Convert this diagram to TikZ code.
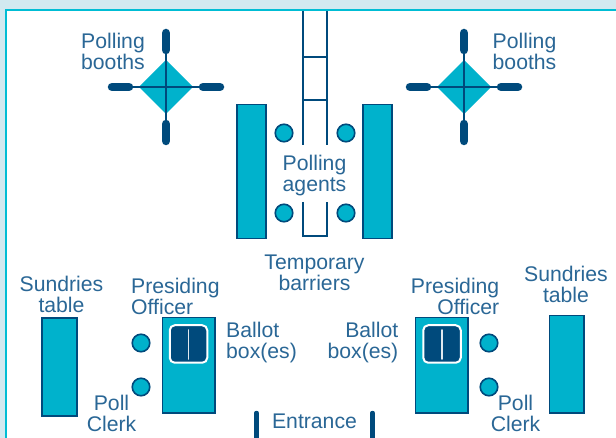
\documentclass[tikz,border=0pt]{standalone}
\usepackage{fontspec}
\setmainfont{Liberation Sans}
\definecolor{navy}{HTML}{004A7C}
\definecolor{teal}{HTML}{00B2CC}
\definecolor{pale}{HTML}{D2E9F0}
\definecolor{txt}{HTML}{2A6796}
\tikzset{
 x=1pt,y=-1pt,
 lab/.style={text=txt,font=\fontsize{21.2}{21}\selectfont,align=center,inner sep=0pt},
 tbl/.style={draw=navy,fill=teal,line width=1.6pt},
 seat/.style={circle,draw=navy,fill=teal,line width=1.6pt,minimum size=17.5pt,inner sep=0pt},
 wire/.style={draw=navy,line width=1.6pt},
 post/.style={draw=navy,line width=8.5pt,line cap=round},
}
\newcommand{\booth}[3]{%
 \coordinate (#1c) at (#2,#3);
 \fill[teal] (#2-27,#3) -- (#2,#3-27) -- (#2+27,#3) -- (#2,#3+27) -- cycle;
 \draw[wire] (#2-33,#3) -- (#2+33,#3) (#2,#3-33) -- (#2,#3+33);
 \draw[post] (#2-54,#3) -- (#2-37,#3);
 \draw[post] (#2+37,#3) -- (#2+54,#3);
 \draw[post] (#2,#3-54) -- (#2,#3-37);
 \draw[post] (#2,#3+37) -- (#2,#3+54);
}
\newcommand{\bbox}[3]{%
 \node[draw=white,fill=navy,line width=2pt,rounded corners=5pt,minimum width=37.5pt,minimum height=37.5pt,inner sep=0pt,outer sep=0pt] (#1) at (#2,#3) {};
 \draw[white!88!navy,line width=1.6pt,line cap=round] (#2,#3-14) -- (#2,#3+15);
}
\begin{document}
\begin{tikzpicture}
\useasboundingbox (0,0) rectangle (616,438);
\fill[white] (0,0) rectangle (616,438);
\fill[pale] (0,0) rectangle (616,10);
\fill[pale] (0,0) rectangle (5,438);
\draw[teal!85!cyan,line width=2pt] (616,10.5) -- (6,10.5) -- (6,438);
% booths
\booth{a}{166}{87}
\booth{b}{464}{87}
% central barrier
\draw[wire] (303,11) -- (303,145);
\draw[wire] (327,11) -- (327,145);
\draw[wire] (303,57) -- (327,57);
\draw[wire] (303,100) -- (327,100);
\draw[wire] (303,202) -- (303,236) -- (327,236) -- (327,202);
% polling agents tables
\draw[tbl] (237,104.5) rectangle (266,238.5);
\draw[tbl] (363,104.5) rectangle (392,238.5);
\node[seat] (s1) at (284,133) {};
\node[seat] (s2) at (346,133) {};
\node[seat] (s3) at (284,213) {};
\node[seat] (s4) at (346,213) {};
% left lower
\draw[tbl] (42,318) rectangle (77,416);
\draw[tbl] (162.5,317.5) rectangle (215,413);
\bbox{bl}{188.5}{344}
\node[seat] (s5) at (141,343) {};
\node[seat] (s6) at (141,387) {};
% right lower
\draw[tbl] (415.5,317.5) rectangle (468,413);
\bbox{br}{442}{344}
\node[seat] (s7) at (489,343) {};
\node[seat] (s8) at (489,387) {};
\draw[tbl] (549.5,315.5) rectangle (584,413);
% entrance
\draw[navy,line width=4.5pt,line cap=round] (256.5,413) -- (256.5,438);
\draw[navy,line width=4.5pt,line cap=round] (372.5,413) -- (372.5,438);
% labels
\node[lab] (l1) at (113,51) {Polling\\booths};
\node[lab] (l2) at (524.5,51) {Polling\\booths};
\node[lab] (l3) at (314.5,175.5) {Polling\\agents};
\node[lab] (l4) at (314.5,272.5) {Temporary\\barriers};
\node[lab] (l5) at (61.5,294.5) {Sundries\\table};
\node[lab,align=left,anchor=west] (l6) at (131,296) {Presiding\\Officer};
\node[lab,align=left,anchor=west] (l7) at (226,342.5) {Ballot\\box(es)};
\node[lab] (l8) at (111.5,413.5) {Poll\\Clerk};
\node[lab,align=right,anchor=east] (l9) at (499.5,296) {Presiding\\Officer};
\node[lab,align=right,anchor=east] (l10) at (398.5,342.5) {Ballot\\box(es)};
\node[lab] (l11) at (515.5,413.5) {Poll\\Clerk};
\node[lab] (l12) at (566,284.5) {Sundries\\table};
\node[lab] (l13) at (314.5,421) {Entrance};
\end{tikzpicture}
\end{document}
